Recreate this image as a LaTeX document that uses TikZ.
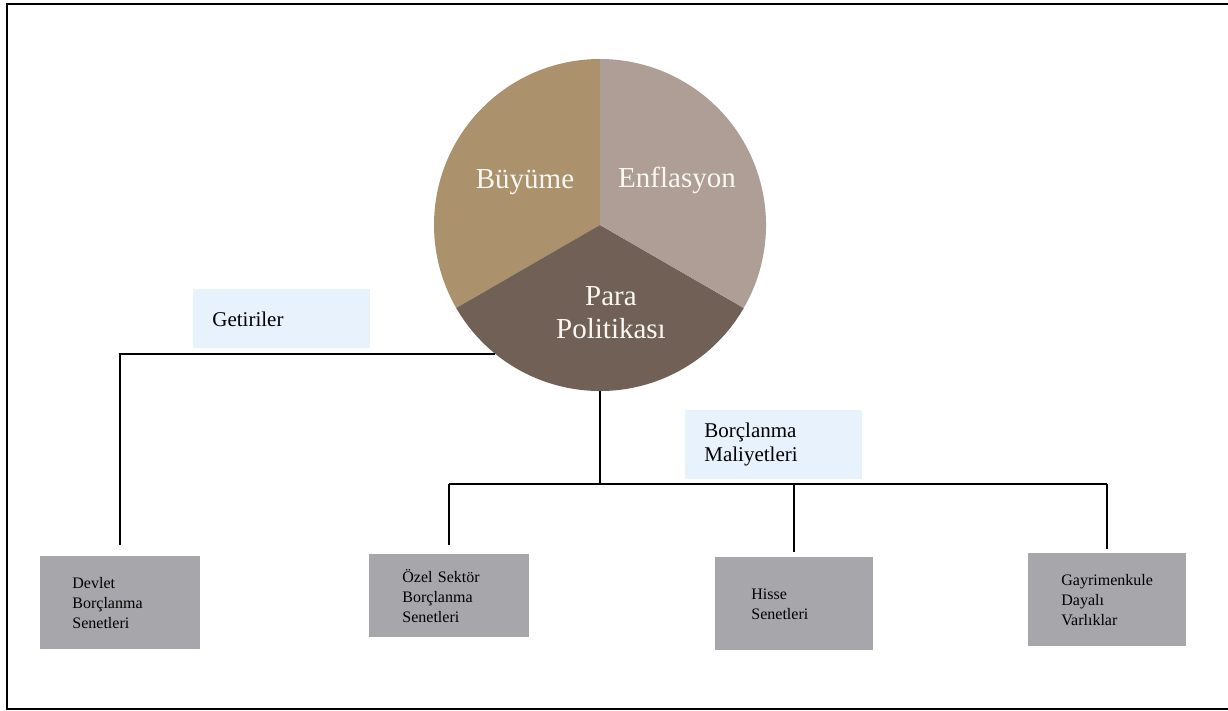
\documentclass[tikz,border=0pt]{standalone}
\usepackage{fontspec}
\setmainfont{Liberation Serif}
\usetikzlibrary{positioning}

\definecolor{buyumeRenk}{HTML}{AB926D}
\definecolor{enflasyonRenk}{HTML}{AE9E96}
\definecolor{paraRenk}{HTML}{716055}
\definecolor{kutuGri}{HTML}{A7A6AB}
\definecolor{etiketMavi}{HTML}{E8F2FC}
\definecolor{yaziBeyaz}{HTML}{FAF7F2}

\begin{document}
\begin{tikzpicture}[x=0.5pt, y=-0.5pt,
    cizgi/.style={line width=1pt},
    dilim/.style={text=yaziBeyaz, font=\fontsize{14.5}{16.5}\selectfont, align=center, inner sep=0pt},
    kutu/.style={fill=kutuGri, anchor=north west, text width=48pt, inner xsep=16pt, align=left, minimum height=46.5pt, font=\fontsize{8}{10}\selectfont},
    etiket/.style={fill=etiketMavi, anchor=north west, text width=69.5pt, inner xsep=9.5pt, align=left, font=\fontsize{10.5}{12}\selectfont}]
\useasboundingbox (0,0) rectangle (1228,711);

% Frame (open on the right)
\draw[line width=1pt] (1228,4) -- (7,4) -- (7,709) -- (1228,709);

% The pie with its three slices
\coordinate (merkez) at (600,225);
\fill[buyumeRenk] (merkez) -- ++(90:83pt) arc[start angle=90, end angle=210, radius=83pt] -- cycle;
\fill[paraRenk] (merkez) -- ++(210:83pt) arc[start angle=210, end angle=330, radius=83pt] -- cycle;
\fill[enflasyonRenk] (merkez) -- ++(330:83pt) arc[start angle=330, end angle=450, radius=83pt] -- cycle;
\node[circle, minimum size=166pt, inner sep=0pt] (pie) at (merkez) {};

\node[dilim, anchor=base] (buyume) at (525,189) {Büyüme};
\node[dilim, anchor=base] (enflasyon) at (677,188) {Enflasyon};
\node[dilim] (para) at (611,313) {Para\\Politikası};

% Labels on the connectors
\node[etiket, minimum height=29.5pt] (getiriler) at (193,289) {Getiriler};
\node[etiket, minimum height=34.5pt] (maliyet) at (685,410) {Borçlanma\\Maliyetleri};

% Asset boxes
\node[kutu] (devlet) at (40,556) {Devlet\\Borçlanma\\Senetleri};
\node[kutu, minimum height=41.5pt, text width=47pt, inner xsep=16.5pt] (ozel) at (369,554) {Özel Sektör\\Borçlanma\\Senetleri};
\node[kutu, text width=43pt, inner xsep=18pt] (hisse) at (715,557) {Hisse\\Senetleri};
\node[kutu, text width=46pt, inner xsep=16.5pt] (gayri) at (1028,553) {Gayrimenkule\\Dayalı\\Varlıklar};

% Getiriler: pie to government bonds
\draw[cizgi] (pie.231) -- (pie.231 -| devlet.north) -- ([yshift=5.5pt]devlet.north);

% Borclanma maliyetleri: pie to the other three
\coordinate (bus) at (600,484);
\draw[cizgi] (pie.south) -- (pie.south |- bus);
\draw[cizgi] (ozel.north |- bus) -- (gayri.north |- bus);
\draw[cizgi] (ozel.north |- bus) -- ([yshift=4.5pt]ozel.north);
\draw[cizgi] (hisse.north |- bus) -- ([yshift=2.5pt]hisse.north);
\draw[cizgi] (gayri.north |- bus) -- ([yshift=2pt]gayri.north);

\end{tikzpicture}
\end{document}
